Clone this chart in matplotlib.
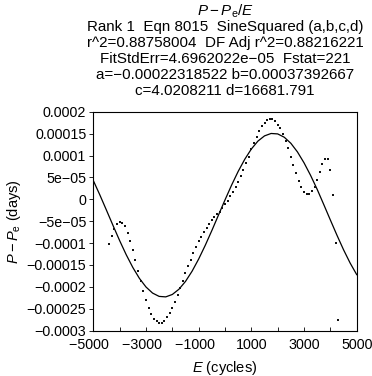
import matplotlib
matplotlib.use('Agg')
import matplotlib.pyplot as plt

# observed points (E in cycles, P - Pe in 1e-5 days)
e_obs = list(range(-4400, 4301, 100))
p_obs = [-10.2, -8.3, -6.8, -5.7, -5.1, -5.3, -6.2, -7.6, -9.45, -11.6,
         -13.9, -16.4, -18.7, -21.0, -23.1, -24.8, -26.3, -27.3, -27.85, -28.2,
         -28.2, -27.8, -26.9, -26.0, -24.8, -23.4, -21.9, -20.25, -18.6, -16.8,
         -15.2, -13.8, -12.3, -10.9, -9.6, -8.5, -7.5, -6.5, -5.6, -4.8,
         -4.1, -3.4, -2.8, -1.9, -1.15, -0.4, 0.75, 1.7, 2.8, 4.0,
         5.3, 6.7, 8.2, 9.7, 11.4, 12.8, 14.3, 15.6, 16.7, 17.5,
         18.1, 18.3, 18.3, 17.9, 17.0, 16.2, 14.9, 13.4, 11.6, 9.7,
         7.8, 5.9, 4.25, 2.7, 1.7, 1.1, 1.1, 1.8, 2.9, 4.4,
         6.3, 8.1, 9.1, 9.1, 6.8, 1.0, -9.9, -27.6]

# fitted curve (every 250 cycles, 1e-5 days)
e_fit = list(range(-5000, 5001, 250))
p_fit = [4.29, 0.98, -2.49, -6.00, -9.43, -12.66, -15.56, -18.05, -20.02, -21.41,
         -22.17, -22.28, -21.73, -20.54, -18.75, -16.42, -13.64, -10.51, -7.14, -3.63,
         -0.14, 3.24, 6.37, 9.14, 11.48, 13.29, 14.48, 15.03, 14.93, 14.17,
         12.79, 10.82, 8.33, 5.45, 2.26, -1.21, -4.73, -8.20, -11.52, -14.55,
         -17.20]

yticks = [0.0002, 0.00015, 0.0001, 0.00005, 0, -0.00005, -0.0001, -0.00015,
          -0.0002, -0.00025, -0.0003]
ylabels = ['0.0002', '0.00015', '0.0001', '5e\u221205', '0', '\u22125e\u221205',
           '\u22120.0001', '\u22120.00015', '\u22120.0002', '\u22120.00025', '\u22120.0003']
xticks = list(range(-5000, 5001, 1000))
# the minus hangs to the left of the tick, so pad the negative labels on the right
xlabels = ['\u22125000  ', '', '\u22123000  ', '', '\u22121000  ', '', '1000', '', '3000', '', '5000']

title_lines = [r'$P - P_\mathrm{e}/E$',
               'Rank 1  Eqn 8015  SineSquared (a,b,c,d)',
               'r^2=0.88758004  DF Adj r^2=0.88216221',
               'FitStdErr=4.6962022e\u221205  Fstat=221',
               'a=\u22120.00022318522 b=0.00037392667',
               'c=4.0208211 d=16681.791']

plt.rcParams['font.family'] = ['Liberation Sans', 'DejaVu Sans']
plt.rcParams['mathtext.fontset'] = 'custom'
plt.rcParams['mathtext.it'] = 'Liberation Sans:italic'
plt.rcParams['mathtext.rm'] = 'Liberation Sans'

fig = plt.figure(figsize=(3.72, 3.76), dpi=100)
ax = fig.add_axes([0.2508, 0.1205, 0.7081, 0.5824])

ax.plot(e_fit, [v * 1e-5 for v in p_fit], color='black', lw=0.9)
ax.plot(e_obs, [v * 1e-5 for v in p_obs], 's', color='#111111', markersize=1.8,
        markeredgewidth=0)

ax.set_xlim(-5000, 5000)
ax.set_ylim(-0.0003, 0.0002)
ax.set_xticks(xticks)
ax.set_xticklabels(xlabels, fontsize=10.3)
ax.set_yticks(yticks)
ax.set_yticklabels(ylabels, fontsize=10.3)
ax.tick_params(axis='x', direction='in', length=3, width=0.6, pad=5)
ax.tick_params(axis='y', direction='out', length=3, width=0.6, pad=2)
for s in ax.spines.values():
    s.set_linewidth(0.8)

ax.set_xlabel(r'$E$ (cycles)', fontsize=10.5, labelpad=5)
ax.set_ylabel(r'$P - P_\mathrm{e}$ (days)', fontsize=10.5, labelpad=3)

cx = (0.2508 + 0.9589) / 2
for i, t in enumerate(title_lines):
    fig.text(cx, 1 - (11 + 16 * i) / 376, t, ha='center', va='center', fontsize=10.9)

fig.savefig('out.png', dpi=100)
